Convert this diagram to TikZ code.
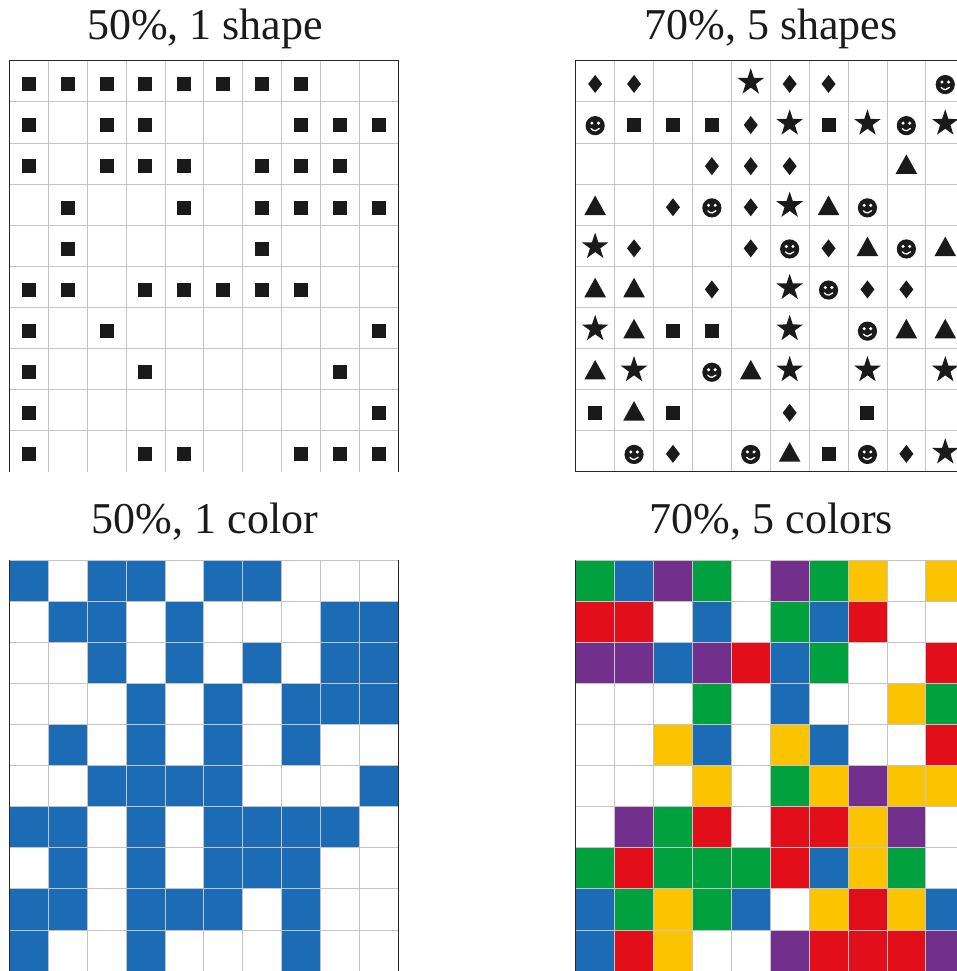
\documentclass[tikz,border=0pt]{standalone}
\usepackage{fontspec}
\setmainfont{Liberation Serif}
\definecolor{cB}{RGB}{27,108,180}
\definecolor{cG}{RGB}{0,161,62}
\definecolor{cR}{RGB}{226,14,26}
\definecolor{cY}{RGB}{251,195,0}
\definecolor{cP}{RGB}{114,48,140}
\definecolor{gridgray}{RGB}{196,196,196}
\definecolor{border}{RGB}{40,40,40}
\definecolor{ink}{RGB}{26,26,26}
\tikzset{
  title/.style={anchor=base, inner sep=0pt, font=\fontsize{44}{50}\selectfont, text=ink},
  gridline/.style={draw=gridgray, line width=0.8pt},
  frame/.style={draw=border, line width=1.3pt},
  pics/shpQ/.style={code={\fill[ink] (-7pt,-10pt) rectangle (7pt,4pt);}},
  pics/shpD/.style={code={\fill[ink] (0pt,6.3pt) -- (7pt,-2.7pt) -- (0pt,-11.7pt) -- (-7pt,-2.7pt) -- cycle;}},
  pics/shpT/.style={code={\fill[ink] (-10.8pt,-10.5pt) -- (10.8pt,-10.5pt) -- (0pt,9pt) -- cycle;}},
  pics/shpS/.style={code={\fill[ink, shift={(0pt,-1pt)}] (90:14pt) -- (126:5.4pt) -- (162:14pt) -- (198:5.4pt) -- (234:14pt) -- (270:5.4pt) -- (306:14pt) -- (342:5.4pt) -- (18:14pt) -- (54:5.4pt) -- cycle;}},
  pics/shpF/.style={code={
    \fill[ink] (0pt,-3.3pt) circle[radius=9.6pt];
    \fill[white] (-3.3pt,-0.8pt) circle[radius=1.7pt] (3.3pt,-0.8pt) circle[radius=1.7pt];
    \draw[white, line width=1.3pt, line cap=round] (-4.1pt,-6.2pt) arc[start angle=215, end angle=325, radius=5pt];
  }},
}
\begin{document}
\begin{tikzpicture}[x=1pt, y=-1pt]
\path[use as bounding box] (0,0) rectangle (957,971);
\clip (0,0) rectangle (957,971);

% titles
\node[title] (t1) at (205,40) {50\%, 1 shape};
\node[title] (t2) at (771,40) {70\%, 5 shapes};
\node[title] (t3) at (205,533) {50\%, 1 color};
\node[title] (t4) at (771.5,533) {70\%, 5 colors};

% ---------- top-left: 50%, 1 shape ----------
\begin{scope}[shift={(9.3,60.7)}, x=38.9pt, y=-41.1pt]
  \foreach \rr/\cs in {0/{0,1,2,3,4,5,6,7},1/{0,2,3,7,8,9},2/{0,2,3,4,6,7,8},3/{1,4,6,7,8,9},4/{1,6},
                       5/{0,1,3,4,5,6,7},6/{0,2,9},7/{0,3,8},8/{0,9},9/{0,3,4,7,8,9}}
    \foreach \cc in \cs \pic at (\cc+0.5,\rr+0.5) {shpQ};
  \foreach \i in {1,...,9} \draw[gridline] (\i,0) -- (\i,10);
  \foreach \j in {1,...,9} \draw[gridline] (0,\j) -- (10,\j);
  \draw[frame] (0,10) -- (0,0) -- (10,0) -- (10,10);
\end{scope}

% ---------- top-right: 70%, 5 shapes ----------
\begin{scope}[shift={(575.7,60.7)}, x=38.9pt, y=-41.1pt]
  \foreach \cc/\rr in {0/0,1/0,5/0,6/0,4/1,3/2,4/2,5/2,2/3,4/3,1/4,4/4,6/4,3/5,7/5,8/5,5/8,2/9,8/9}
    \pic at (\cc+0.5,\rr+0.5) {shpD};
  \foreach \cc/\rr in {4/0,5/1,7/1,9/1,5/3,0/4,5/5,0/6,5/6,1/7,5/7,7/7,9/7,9/9}
    \pic at (\cc+0.5,\rr+0.5) {shpS};
  \foreach \cc/\rr in {9/0,0/1,8/1,3/3,7/3,5/4,8/4,6/5,7/6,3/7,1/9,4/9,7/9}
    \pic at (\cc+0.5,\rr+0.5) {shpF};
  \foreach \cc/\rr in {1/1,2/1,3/1,6/1,2/6,3/6,0/8,2/8,7/8,6/9}
    \pic at (\cc+0.5,\rr+0.5) {shpQ};
  \foreach \cc/\rr in {8/2,0/3,6/3,7/4,9/4,0/5,1/5,1/6,8/6,9/6,0/7,4/7,1/8,5/9}
    \pic at (\cc+0.5,\rr+0.5) {shpT};
  \foreach \i in {1,...,10} \draw[gridline] (\i,0) -- (\i,10);
  \foreach \j in {1,...,9} \draw[gridline] (0,\j) -- (10,\j);
  \draw[frame] (10,0) -- (0,0) -- (0,10) -- (10,10);
\end{scope}

% ---------- bottom-left: 50%, 1 color ----------
\begin{scope}[shift={(9.3,560)}, x=38.9pt, y=-41.1pt]
  \foreach \rr/\cs in {0/{0,2,3,5,6},1/{1,2,4,8,9},2/{2,4,6,8,9},3/{3,5,7,8,9},4/{1,3,5,7},
                       5/{2,3,4,5,9},6/{0,1,3,5,6,7,8},7/{1,3,5,6,7},8/{0,1,3,4,5,7},9/{0,3,7}}
    \foreach \cc in \cs \fill[cB] (\cc,\rr) rectangle (\cc+1,\rr+1);
  \foreach \i in {1,...,9} \draw[gridline] (\i,0) -- (\i,10);
  \foreach \j in {0,...,9} \draw[gridline] (0,\j) -- (10,\j);
  \draw[frame] (0,0) -- (0,10);
  \draw[frame] (10,0) -- (10,10);
\end{scope}

% ---------- bottom-right: 70%, 5 colors ----------
\begin{scope}[shift={(575.7,560)}, x=38.9pt, y=-41.1pt]
  \foreach \rr/\items in {
      0/{0/G,1/B,2/P,3/G,5/P,6/G,7/Y,9/Y},
      1/{0/R,1/R,3/B,5/G,6/B,7/R},
      2/{0/P,1/P,2/B,3/P,4/R,5/B,6/G,9/R},
      3/{3/G,5/B,8/Y,9/G},
      4/{2/Y,3/B,5/Y,6/B,9/R},
      5/{3/Y,5/G,6/Y,7/P,8/Y,9/Y},
      6/{1/P,2/G,3/R,5/R,6/R,7/Y,8/P},
      7/{0/G,1/R,2/G,3/G,4/G,5/R,6/B,7/Y,8/G},
      8/{0/B,1/G,2/Y,3/G,4/B,6/Y,7/R,8/Y,9/B},
      9/{0/B,1/R,2/Y,5/P,6/R,7/R,8/R,9/P}}
    \foreach \cc/\kk in \items \fill[c\kk] (\cc,\rr) rectangle (\cc+1,\rr+1);
  \foreach \i in {1,...,10} \draw[gridline] (\i,0) -- (\i,10);
  \foreach \j in {0,...,9} \draw[gridline] (0,\j) -- (10,\j);
  \draw[frame] (0,0) -- (0,10);
\end{scope}
\end{tikzpicture}
\end{document}
